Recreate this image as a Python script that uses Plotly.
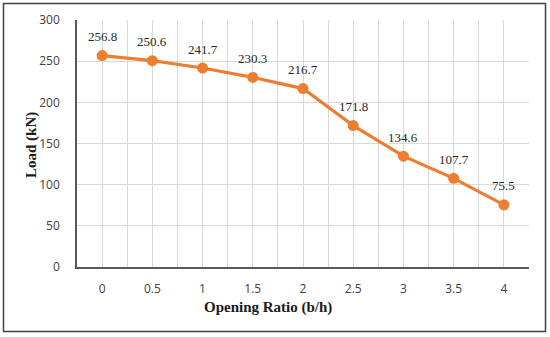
import plotly.graph_objects as go

opening_ratio = [0, 0.5, 1, 1.5, 2, 2.5, 3, 3.5, 4]
load_kn = [256.8, 250.6, 241.7, 230.3, 216.7, 171.8, 134.6, 107.7, 75.5]
x_tick_labels = ["0", "0.5", "1", "1.5", "2", "2.5", "3", "3.5", "4"]
y_ticks = [0, 50, 100, 150, 200, 250, 300]

W, H = 550, 337
L, R, T, B = 77, 21, 20, 70
pw, ph = W - L - R, H - T - B

def px(xp):
    return (xp - L) / pw

def py(yp):
    return (H - B - yp) / ph

fig = go.Figure()
fig.add_trace(go.Scatter(
    x=opening_ratio, y=load_kn,
    mode="lines+markers",
    line=dict(color="#ED7D31", width=3.2),
    marker=dict(color="#ED7D31", size=11),
    showlegend=False,
))

label_annotations = [
    dict(x=xv, y=yv, xref="x", yref="y", text=f"{yv:.1f}", showarrow=False,
         yshift=19, xanchor="center", yanchor="middle",
         font=dict(family="Liberation Serif", size=13, color="#262626"))
    for xv, yv in zip(opening_ratio, load_kn)
]

fig.update_layout(
    width=W, height=H,
    margin=dict(l=L, r=R, t=T, b=B, pad=0),
    paper_bgcolor="white", plot_bgcolor="white",
    font=dict(family="Open Sans", size=12, color="#404040"),
    xaxis=dict(
        range=[-0.25, 4.25],
        tickmode="array", tickvals=opening_ratio, ticktext=x_tick_labels,
        showgrid=True, gridcolor="#D9D9D9", gridwidth=1,
        minor=dict(tickmode="linear", tick0=-0.25, dtick=0.5, showgrid=True,
                   gridcolor="#D9D9D9", gridwidth=1),
        showline=True, linecolor="#595959", linewidth=1.5,
        ticks="", ticklabelstandoff=10,
        zeroline=False, automargin=False,
        tickfont=dict(family="Open Sans", size=12, color="#404040"),
    ),
    yaxis=dict(
        range=[0, 300],
        tickmode="array", tickvals=y_ticks,
        showgrid=True, gridcolor="#D9D9D9", gridwidth=1,
        showline=True, linecolor="#595959", linewidth=1.5,
        ticks="", ticklabelstandoff=13,
        zeroline=False, automargin=False,
        tickfont=dict(family="Open Sans", size=12, color="#404040"),
    ),
    annotations=label_annotations + [
        dict(text="<b>Opening Ratio (b/h)</b>", xref="paper", yref="paper",
             x=px(268), y=py(307), showarrow=False, xanchor="center", yanchor="middle",
             font=dict(family="Liberation Serif", size=15, color="#1a1a1a")),
        dict(text="<b>Load (kN)</b>", xref="paper", yref="paper",
             x=px(31), y=py(145), showarrow=False, xanchor="center", yanchor="middle",
             textangle=-90,
             font=dict(family="Liberation Serif", size=15, color="#1a1a1a")),
    ],
    shapes=[
        dict(type="rect", xref="paper", yref="paper",
             x0=px(3.5), x1=px(545.5), y0=py(331.5), y1=py(3.5),
             line=dict(color="#404040", width=1.5), fillcolor="rgba(0,0,0,0)"),
    ],
)

fig.write_html("out.html", config={"displayModeBar": False},
               post_script="document.body.style.margin='0';document.body.style.overflow='hidden';")
